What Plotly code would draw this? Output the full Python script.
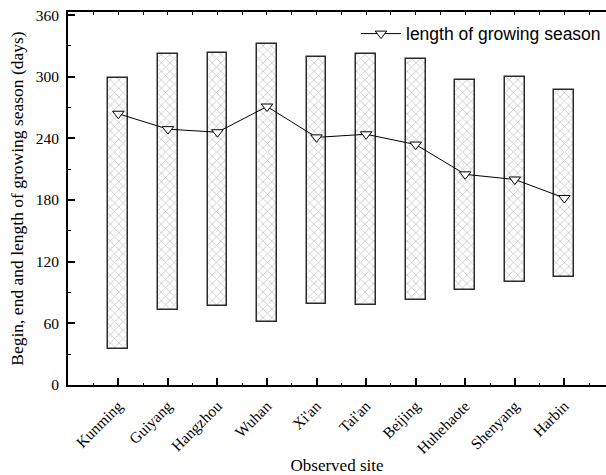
import plotly.graph_objects as go

# Observed sites along the x axis
sites = ["Kunming", "Guiyang", "Hangzhou", "Wuhan", "Xi'an",
         "Tai'an", "Beijing", "Huhehaote", "Shenyang", "Harbin"]

# Day of year when the growing season begins and ends
season_begin = [35, 73, 77, 61, 79, 78, 83, 92, 100, 105]
season_end = [299, 322, 323, 332, 319, 322, 317, 297, 300, 287]

# Length of growing season (days)
season_length = [264, 249, 246, 271, 241, 244, 234, 205, 200, 182]

y_ticks = [0, 60, 120, 180, 240, 300, 360]

x_pos = list(range(len(sites)))
spans = [e - b for b, e in zip(season_begin, season_end)]

serif = "Liberation Serif, Times New Roman, serif"
sans = "Liberation Sans, Arial, sans-serif"
x_range = [-1.015, 9.84]

fig = go.Figure()

# Floating hatched bars from begin to end of the season
fig.add_trace(go.Bar(
    x=x_pos, y=spans, base=season_begin, width=0.4,
    marker=dict(
        color="white",
        line=dict(color="#2a2a2a", width=1.5),
        pattern=dict(shape="x", fgcolor="#8f8f8f", bgcolor="white",
                     size=6, solidity=0.25),
    ),
    showlegend=False, hoverinfo="skip",
))

# Season length line with open down-triangles
fig.add_trace(go.Scatter(
    x=x_pos, y=season_length, xaxis="x2",
    mode="lines+markers", name="length of growing season",
    line=dict(color="black", width=1),
    marker=dict(symbol="triangle-down", size=10, color="white",
                line=dict(color="black", width=1)),
))

fig.update_layout(
    width=606, height=475,
    margin=dict(l=68, r=0, t=12, b=90),
    plot_bgcolor="white", paper_bgcolor="white",
    bargap=0,
    xaxis=dict(
        range=x_range, tickmode="array", tickvals=x_pos, ticktext=sites,
        tickangle=-45, tickfont=dict(family=serif, size=15.5, color="black"),
        ticks="inside", ticklen=7, tickwidth=2, tickcolor="black",
        ticklabelstandoff=4,
        minor=dict(tickmode="linear", tick0=0.5, dtick=1, ticks="inside",
                   ticklen=2, tickwidth=1, tickcolor="black"),
        showline=True, linecolor="black", linewidth=2,
        showgrid=False, zeroline=False,
        title=dict(text="Observed site",
                   font=dict(family=serif, size=17, color="black"),
                   standoff=6),
    ),
    xaxis2=dict(
        range=x_range, overlaying="x", side="top",
        tickmode="linear", tick0=0, dtick=0.5,
        ticks="inside", ticklen=3, tickwidth=1, tickcolor="black",
        showticklabels=False, showline=True, linecolor="black",
        linewidth=2, showgrid=False, zeroline=False,
    ),
    yaxis=dict(
        range=[0, 363], tickmode="array", tickvals=y_ticks,
        tickfont=dict(family=serif, size=15.5, color="black"),
        ticks="inside", ticklen=7, tickwidth=2, tickcolor="black",
        ticklabelstandoff=4,
        minor=dict(tickmode="linear", tick0=30, dtick=60, ticks="inside",
                   ticklen=3, tickwidth=1, tickcolor="black"),
        showline=True, linecolor="black", linewidth=2,
        showgrid=False, zeroline=False,
        title=dict(text="Begin, end and length of growing season (days)",
                   font=dict(family=serif, size=17.5, color="black"),
                   standoff=8),
    ),
    legend=dict(
        x=1.0, y=0.99, xanchor="right", yanchor="top",
        bgcolor="rgba(0,0,0,0)",
        font=dict(family=sans, size=17.5, color="black"),
        itemwidth=40,
    ),
)

fig.write_html("out.html")
